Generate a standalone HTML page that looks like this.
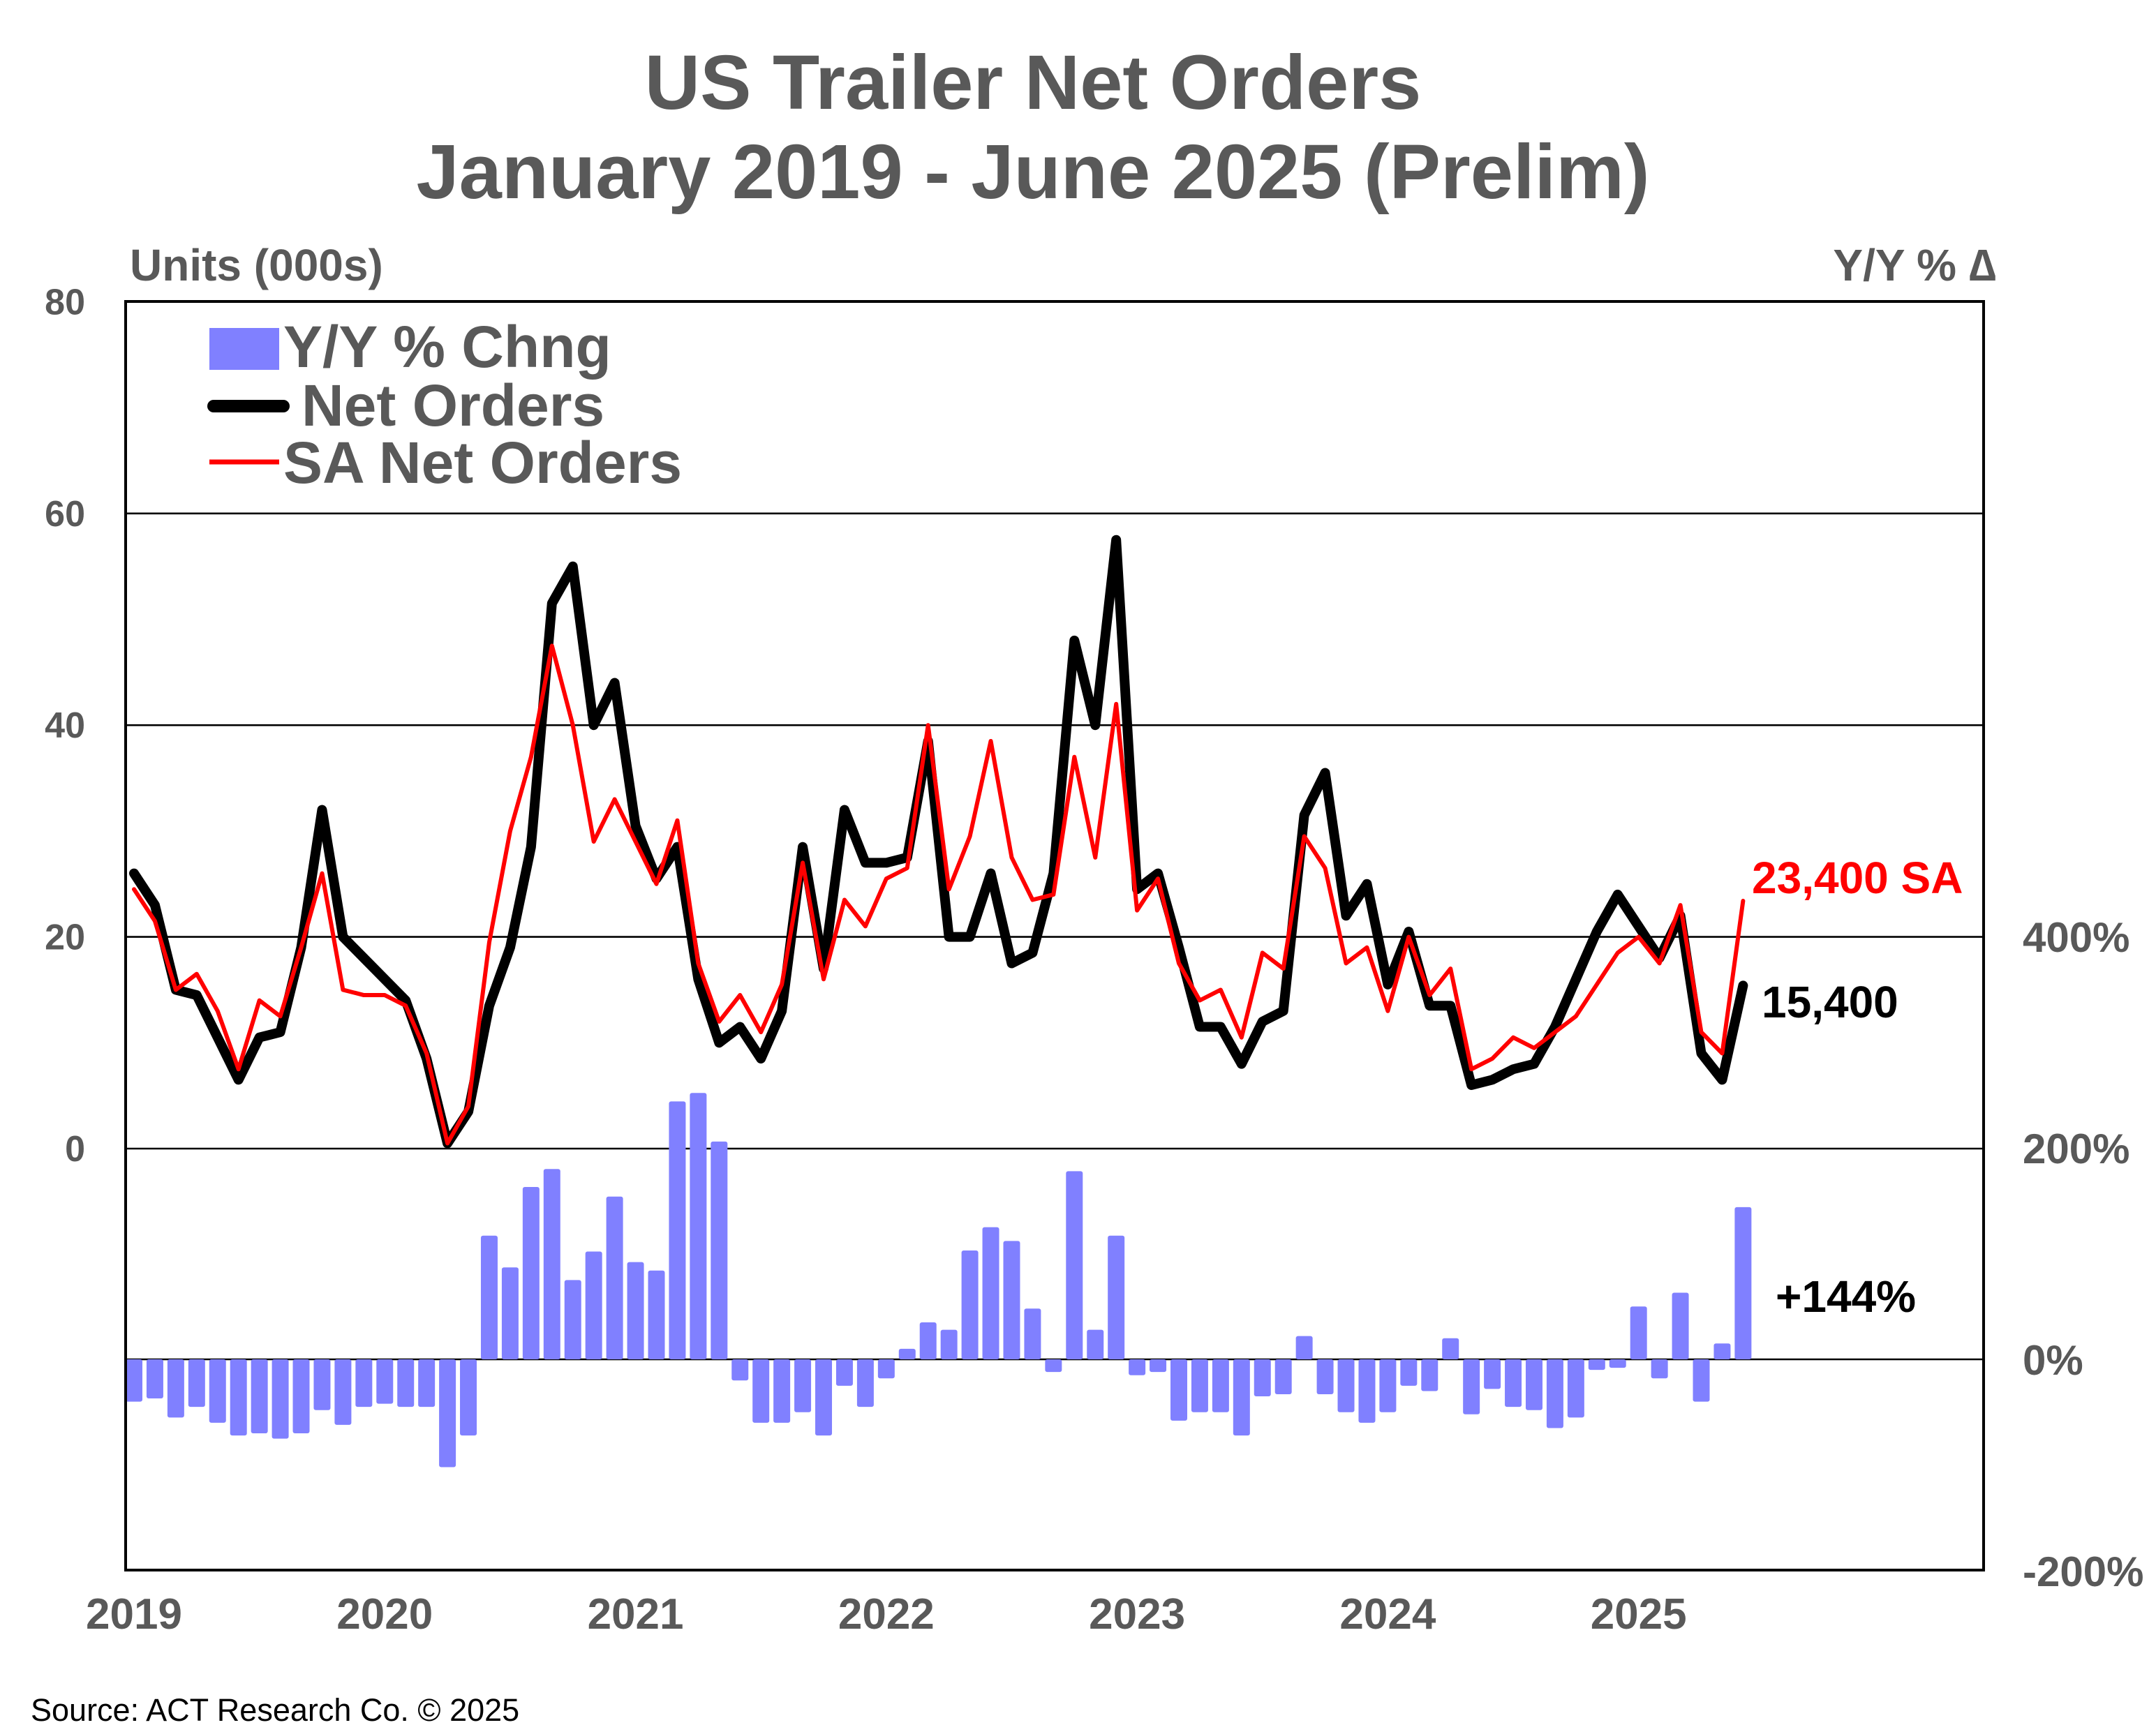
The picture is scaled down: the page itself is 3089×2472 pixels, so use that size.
<!DOCTYPE html>
<html><head><meta charset="utf-8"><style>
html,body{margin:0;padding:0;background:#fff;}
svg{display:block;font-family:"Liberation Sans",Arial,sans-serif;}
</style></head><body>
<svg id="chart" width="3089" height="2472" viewBox="0 0 1544.5 1236">
<rect x="0" y="0" width="1544.5" height="1236" fill="#fff"/>
<text x="740" y="78" text-anchor="middle" font-size="55" font-weight="bold" fill="#595959">US Trailer Net Orders</text>
<text x="740" y="142" text-anchor="middle" font-size="55" font-weight="bold" fill="#595959">January 2019 - June 2025 (Prelim)</text>
<text x="93" y="201" font-size="32" font-weight="bold" fill="#595959">Units (000s)</text>
<text x="1430" y="201" text-anchor="end" font-size="32" font-weight="bold" fill="#595959">Y/Y % ∆</text>
<g id="grid"></g>
<g id="bars"></g>
<g id="lines"></g>
<rect x="90" y="216" width="1331" height="909" fill="none" stroke="#000" stroke-width="2"/>
<g id="axes"></g>
<g>
<rect x="150" y="235" width="50" height="30" fill="#8080ff"/>
<text x="203" y="263" font-size="42" font-weight="bold" fill="#595959">Y/Y % Chng</text>
<line x1="153" y1="291" x2="203" y2="291" stroke="#000" stroke-width="9" stroke-linecap="round"/>
<text x="216" y="305" font-size="42" font-weight="bold" fill="#595959">Net Orders</text>
<line x1="150" y1="331" x2="200" y2="331" stroke="#f00" stroke-width="3.5"/>
<text x="203" y="346" font-size="42" font-weight="bold" fill="#595959">SA Net Orders</text>
</g>
<text x="1255" y="640" font-size="32" font-weight="bold" fill="#f00">23,400 SA</text>
<text x="1262" y="729" font-size="32" font-weight="bold" fill="#000">15,400</text>
<text x="1272" y="940" font-size="32" font-weight="bold" fill="#000">+144%</text>
<text x="22" y="1233" font-size="22.5" fill="#000">Source: ACT Research Co. © 2025</text>
</svg>
<script>
const netOrders=[26,23,15,14.5,10.5,6.5,10.5,11,19,32,20,18,
16,14,8.5,0.5,3.5,13.5,19,28.5,51.5,55,40,44,
30.5,25.5,28.5,16,10,11.5,8.5,13,28.5,17,32,27,
27,27.5,38.5,20,20,26,17.5,18.5,26,48,40,57.5,
24.5,26,19,11.5,11.5,8,12,13,31.5,35.5,22,25,
15.5,20.5,13.5,13.5,6,6.5,7.5,8,11.5,16,20.5,24,
21,18,22,9,6.5,15.4];
const saOrders=[24.5,21.5,15,16.5,13,7.5,14,12.5,19,26,15,14.5,
14.5,13.5,9,0.5,4,19.5,30,37,47.5,40,29,33,
29,25,31,17.5,12,14.5,11,15.5,27,16,23.5,21,
25.5,26.5,40,24.5,29.5,38.5,27.5,23.5,24,37,27.5,42,
22.5,25.5,17.5,14,15,10.5,18.5,17,29.5,26.5,17.5,19,
13,20,14.5,17,7.5,8.5,10.5,9.5,11,12.5,15.5,18.5,
20,17.5,23,11,9,23.4];
const yoyPct=[-40,-37,-55,-45,-60,-72,-70,-75,-70,-48,-62,-45,
-42,-45,-45,-102,-72,117,87,163,180,75,102,154,
92,84,244,252,206,-20,-60,-60,-50,-72,-25,-45,
-18,10,35,28,103,125,112,48,-12,178,28,117,
-15,-12,-58,-50,-50,-72,-35,-33,22,-33,-50,-60,
-50,-25,-30,20,-52,-28,-45,-48,-65,-55,-10,-8,
50,-18,63,-40,15,144];
const leftTicks=[0,20,40,60,80];
const rightTicks=["-200%","0%","200%","400%"];
const rightTickVals=[-200,0,200,400];
const yearLabels=["2019","2020","2021","2022","2023","2024","2025"];

const NS="http://www.w3.org/2000/svg";
const xS=i=>96+14.97*i;
const yL=v=>823-v*7.585;
const yR=p=>974-p*0.7575;
function mk(tag,attrs,parent){const e=document.createElementNS(NS,tag);for(const k in attrs)e.setAttribute(k,attrs[k]);parent.appendChild(e);return e;}
const grid=document.getElementById('grid'),bars=document.getElementById('bars'),lines=document.getElementById('lines'),axes=document.getElementById('axes');
leftTicks.forEach(v=>{
  if(v<80){const l=mk('line',{x1:90,x2:1421,y1:yL(v),y2:yL(v),stroke:'#000','stroke-width':1.3},grid);
  
  }
  const t=mk('text',{x:61,y:yL(v)+9,'text-anchor':'end','font-size':26,'font-weight':'bold',fill:'#595959'},axes);t.textContent=v;
  
  
});
const zl=mk('line',{x1:90,x2:1421,y1:yR(0),y2:yR(0),stroke:'#000','stroke-width':1.3},grid);


rightTickVals.forEach((p,i)=>{
  const t=mk('text',{x:1449,y:yR(p)+11,'font-size':30,'font-weight':'bold',fill:'#595959'},axes);t.textContent=rightTicks[i];
  
  
});
yearLabels.forEach((y,i)=>{
  const t=mk('text',{x:xS(i*12),y:1167,'text-anchor':'middle','font-size':31,'font-weight':'bold',fill:'#595959'},axes);t.textContent=y;
  
  
});
yoyPct.forEach((p,i)=>{
  const y0=yR(0),y1=yR(p);
  const r=mk('rect',{x:xS(i)-6,y:Math.min(y0,y1),width:12,height:Math.max(1,Math.abs(y1-y0)),fill:'#8080ff',rx:1.5},bars);
  
  
});
const net=mk('polyline',{points:netOrders.map((v,i)=>xS(i)+','+yL(v)).join(' '),fill:'none',stroke:'#000','stroke-width':7,'stroke-linejoin':'round','stroke-linecap':'round'},lines);


const sa=mk('polyline',{points:saOrders.map((v,i)=>xS(i)+','+yL(v)).join(' '),fill:'none',stroke:'#f00','stroke-width':3,'stroke-linejoin':'round','stroke-linecap':'round'},lines);


</script>
</body></html>
